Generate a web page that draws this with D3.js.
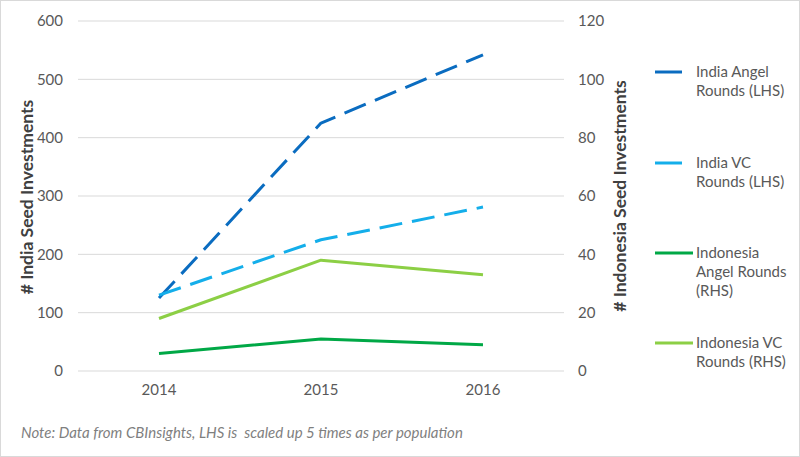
<!DOCTYPE html>
<html><head><meta charset="utf-8">
<script src="https://cdn.jsdelivr.net/npm/d3@7"></script>
<style>body{margin:0;background:#fff}svg{display:block}text{font-family:Lato,"Noto Sans",sans-serif}</style>
</head><body><svg id="c" width="800" height="457"></svg>
<script>
const years = ["2014","2015","2016"];
const indiaAngel = [125, 425, 542];
const indiaVC = [130, 225, 281];
const indonesiaAngel = [6, 11, 9];
const indonesiaVC = [18, 38, 33];
const leftTicks = [0,100,200,300,400,500,600];
const rightTicks = [0,20,40,60,80,100,120];

const series = [
  {name:["India Angel","Rounds (LHS)"], values:indiaAngel, axis:"L", color:"#0a6cc0", dash:"23,10", ly:72, lx2:682},
  {name:["India VC","Rounds (LHS)"], values:indiaVC, axis:"L", color:"#14aeea", dash:"23,10", ly:163, lx2:682},
  {name:["Indonesia","Angel Rounds","(RHS)"], values:indonesiaAngel, axis:"R", color:"#00a846", dash:null, ly:253, lx2:693},
  {name:["Indonesia VC","Rounds (RHS)"], values:indonesiaVC, axis:"R", color:"#8ccf45", dash:null, ly:343, lx2:693}
];

const svg = d3.select("#c");
svg.append("rect").attr("x",0.5).attr("y",0.5).attr("width",799).attr("height",456)
  .attr("fill","#fff").attr("stroke","#d9d9d9");

const x = d3.scaleBand().domain(years).range([78,564]);
const yL = d3.scaleLinear().domain([0,600]).range([371,21]);
const yR = d3.scaleLinear().domain([0,120]).range([371,21]);

svg.append("g").selectAll("line").data(leftTicks).join("line")
  .attr("x1",78).attr("x2",564).attr("y1",d=>yL(d)).attr("y2",d=>yL(d))
  .attr("stroke","#d9d9d9").attr("stroke-width",1);

const fs = "15px";
const gl = svg.append("g").attr("transform","translate(78,0)")
  .call(d3.axisLeft(yL).tickValues(leftTicks).tickSize(0).tickPadding(15));
gl.select(".domain").remove();
gl.selectAll("text").attr("fill","#595959").style("font-size",fs).style("font-family","Lato");

const gr = svg.append("g").attr("transform","translate(564,0)")
  .call(d3.axisRight(yR).tickValues(rightTicks).tickSize(0).tickPadding(14));
gr.select(".domain").remove();
gr.selectAll("text").attr("fill","#595959").style("font-size",fs).style("font-family","Lato");

const gx = svg.append("g").attr("transform","translate(0,371)")
  .call(d3.axisBottom(x).tickSize(0).tickPadding(13));
gx.select(".domain").remove();
gx.selectAll("text").attr("fill","#595959").style("font-size",fs).style("font-family","Lato");

svg.append("text").attr("transform","translate(33,197) rotate(-90)").attr("text-anchor","middle")
  .attr("fill","#404040").style("font-size","17.5px").style("font-weight","bold").text("# India Seed Investments");
svg.append("text").attr("transform","translate(626,196) rotate(-90)").attr("text-anchor","middle")
  .attr("fill","#404040").style("font-size","17.5px").style("font-weight","bold").text("# Indonesia Seed Investments");

const cx = d=>x(d)+x.bandwidth()/2;
series.forEach(s=>{
  const y = s.axis==="L"?yL:yR;
  const line = d3.line().x((d,i)=>cx(years[i])).y(d=>y(d));
  svg.append("path").datum(s.values).attr("d",line).attr("fill","none")
    .attr("stroke",s.color).attr("stroke-width",3).attr("stroke-linejoin","round")
    .attr("stroke-dasharray",s.dash);
  svg.append("line").attr("x1",655).attr("x2",s.lx2).attr("y1",s.ly).attr("y2",s.ly)
    .attr("stroke",s.color).attr("stroke-width",3);
  const t = svg.append("text").attr("x",696).attr("y",s.ly+5).attr("fill","#595959").style("font-size",fs);
  s.name.forEach((n,i)=>t.append("tspan").attr("x",696).attr("dy",i?19:0).text(n));
});

svg.append("text").attr("x",21).attr("y",438).attr("fill","#7f7f7f").style("font-size","15px")
  .style("font-style","italic").attr("xml:space","preserve")
  .text("Note: Data from CBInsights, LHS is  scaled up 5 times as per population");
</script></body></html>
